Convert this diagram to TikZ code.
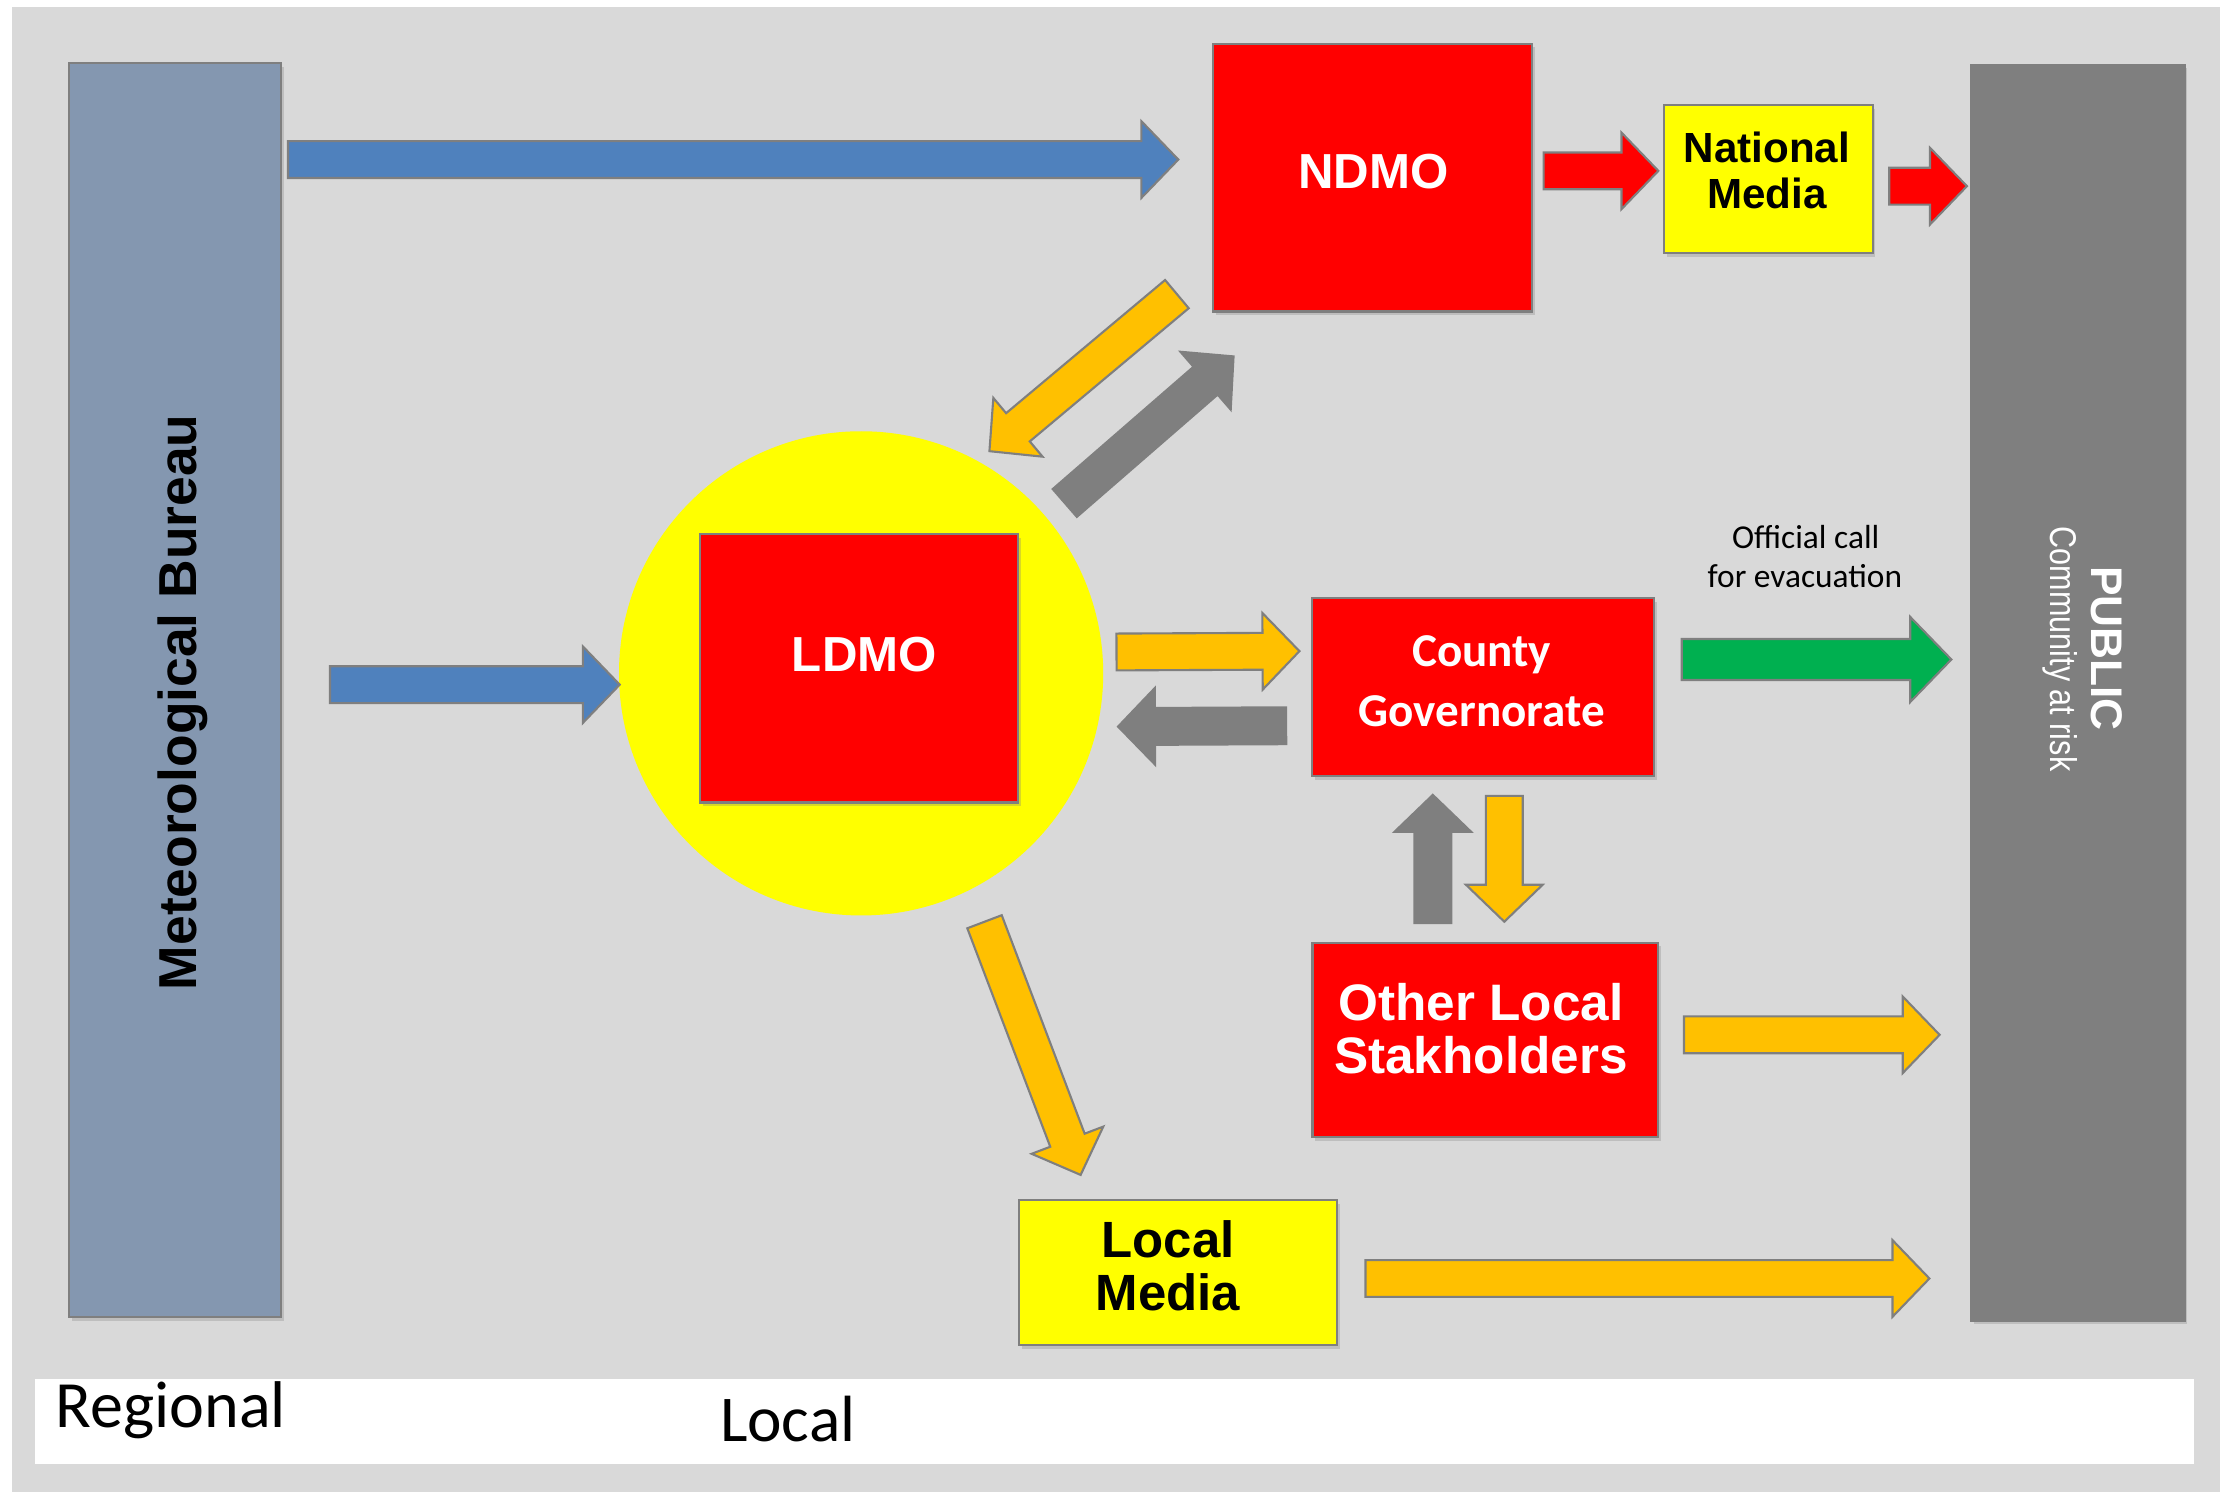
\documentclass[tikz,border=0pt]{standalone}
\usepackage{fontspec}
\setmainfont{Liberation Sans}
\newfontfamily\calfont{Carlito}
\usetikzlibrary{calc,shadows}

\definecolor{bggray}{HTML}{D9D9D9}
\definecolor{metblue}{HTML}{8497B0}
\definecolor{pubgray}{HTML}{7F7F7F}
\definecolor{edgegray}{HTML}{7F7F7F}
\definecolor{boxred}{HTML}{FF0000}
\definecolor{boxyellow}{HTML}{FFFF00}
\definecolor{flowblue}{HTML}{4F81BD}
\definecolor{floworange}{HTML}{FFC000}
\definecolor{flowgreen}{HTML}{00B050}
\definecolor{flowgray}{HTML}{7F7F7F}

\newcommand\pu{0.014158cm}
\newcommand\bw{5.24pt}
\newcommand\bh{10.9pt}
\newcommand\bl{10.5pt}

\begin{document}
\begin{tikzpicture}[
  x=\pu, y=-\pu,
  box/.style={
    rectangle, draw=edgegray, line width=0.6pt, inner sep=0pt,
    drop shadow={shadow xshift=0.8pt, shadow yshift=-1pt, opacity=0.3}
  },
  heavy/.style 2 args={font=\fontsize{#1}{#2}\selectfont\bfseries, inner sep=0pt},
  calibri/.style 2 args={font=\calfont\fontsize{#1}{#2}\selectfont, inner sep=0pt},
  barrow/.style={
    draw=edgegray, line width=0.6pt, fill=#1,
    to path={
      let \p1=(\tikztostart), \p2=(\tikztotarget),
          \n1={atan2(\y2-\y1,\x2-\x1)}, \n2={veclen(\x2-\x1,\y2-\y1)} in
      ($(\p1)+(\n1+90:\bw)$) -- ($(\p1)+(\n1:\n2-\bl)+(\n1+90:\bw)$)
      -- ($(\p1)+(\n1:\n2-\bl)+(\n1+90:\bh)$) -- (\p2)
      -- ($(\p1)+(\n1:\n2-\bl)+(\n1-90:\bh)$)
      -- ($(\p1)+(\n1:\n2-\bl)+(\n1-90:\bw)$)
      -- ($(\p1)+(\n1-90:\bw)$) -- cycle
    }
  },
  wide/.code={\def\bw{5.84pt}\def\bh{12.1pt}\def\bl{11.7pt}}
]
  \fill[bggray] (8.5,5) rectangle (1568,1054);
  \fill[white] (24.7,974) rectangle (1549.6,1034);
  \useasboundingbox (0,0) rectangle (1568,1054);

  \node[box, fill=metblue, minimum width=149.7*\pu, minimum height=885.9*\pu] (met) at (123.5,487.5) {};
  \node[box, fill=pubgray, minimum width=151*\pu, minimum height=887*\pu] (pub) at (1467.5,489.3) {};
  \node[heavy={15.2}{18}, rotate=90, anchor=base] (metname) at (138.5,496) {Meteorological Bureau};
  \node[heavy={12.6}{14}, text=white, rotate=-90, anchor=base] (pubname) at (1477.4,458) {PUBLIC};
  \node[font=\fontsize{10.6}{12}\selectfont, inner sep=0pt, text=white, rotate=-90, anchor=base]
    (pubsub) at (1448,458.5) {\scalebox{0.82}[1]{Community at risk}};

  \node[box, fill=boxred, minimum width=225*\pu, minimum height=189*\pu] (ndmo) at (969.5,125.5) {};
  \node[box, fill=boxyellow, minimum width=147.3*\pu, minimum height=104.6*\pu] (natmedia) at (1249,126.5) {};
  \node[circle, fill=boxyellow, minimum size=342*\pu, inner sep=0pt] (ldmoc) at (608.2,475.6) {};
  \node[box, fill=boxred, minimum width=224.3*\pu, minimum height=189.4*\pu] (ldmo) at (606.8,472.1) {};
  \node[box, fill=boxred, minimum width=241.5*\pu, minimum height=126*\pu] (cg) at (1047.6,485.4) {};
  \node[box, fill=boxred, minimum width=244*\pu, minimum height=137.5*\pu] (ols) at (1049,734.5) {};
  \node[box, fill=boxyellow, minimum width=224.4*\pu, minimum height=102.4*\pu] (locmedia) at (832.2,898.8) {};

  \node[heavy={14}{16}, text=white] (ndmotext) at (970,121.3) {NDMO};
  \node[heavy={12}{13.1}, align=center] (natmediatext) at (1248,120.2) {National\\Media};
  \node[heavy={14}{16}, text=white] (ldmotext) at (610.5,462.4) {LDMO};
  \node[font=\calfont\bfseries\fontsize{13.4}{17.2}\selectfont, inner sep=0pt, text=white, align=center]
    (cgtext) at (1046.5,481.1) {County\\Governorate};
  \node[heavy={14.6}{15.1}, text=white, align=center] (olstext) at (1046,726.3) {Other Local\\Stakholders};
  \node[heavy={14.5}{15.1}, align=center] (locmediatext) at (825,894.3) {Local\\Media};
  \node[calibri={9.5}{11.2}, anchor=base] (calltext) at (1275.4,387.4) {Official call};
  \node[calibri={9.5}{11.2}, anchor=base] (calltextb) at (1274.8,415.2) {for evacuation};
  \node[calibri={18.8}{22}, anchor=base west] (regional) at (38.8,1008) {Regional};
  \node[calibri={18.6}{22}, anchor=base west] (local) at (508.1,1018.1) {Local};

  \draw[barrow=flowblue] ($(met.east |- ndmo.west)+(4.3,-12.8)$) to ($(ndmo.west)+(-24,-12.8)$);
  \draw[barrow=flowblue] ($(met.east |- ldmoc.west)+(34,8)$) to ($(ldmoc.west)+(1,8)$);
  \draw[barrow=boxred] ($(ndmo.east)+(7.5,-4.8)$) to ($(natmedia.west)+(-3.3,-5.8)$);
  \draw[barrow=boxred] ($(natmedia.east)+(11,5)$) to ($(pub.west |- natmedia.east)+(-2,5)$);
  \draw[barrow=floworange] ($(ndmo.south west)+(-25,-13)$) to ($(ldmoc.60)+(4.9,-8.4)$);
  \draw[barrow=flowgray] ($(ldmoc.40)+(12.5,-10.1)$) to ($(ndmo.south west)+(15,31)$);
  \draw[barrow=floworange] ($(ldmoc.east)+(8.9,-15.1)$) to ($(cg.west)+(-8.3,-25.5)$);
  \draw[barrow=flowgray] ($(cg.west)+(-17.7,27.2)$) to ($(ldmoc.east)+(10,37.6)$);
  \draw[barrow=flowgreen, wide] ($(cg.east)+(18.7,-19.6)$) to ($(pub.west |- cg.east)+(-13,-19.6)$);
  \draw[barrow=flowgray] ($(ols.north)+(-37,-13)$) to ($(cg.south)+(-35.6,12.3)$);
  \draw[barrow=floworange] ($(cg.south)+(14.9,13)$) to ($(ols.north)+(13.5,-14)$);
  \draw[barrow=floworange] ($(ols.east)+(17.7,-3.6)$) to ($(pub.west |- ols.east)+(-21.3,-3.6)$);
  \draw[barrow=floworange] ($(ldmoc.-64)+(12,21.3)$) to ($(locmedia.north west)+(44,-17)$);
  \draw[barrow=floworange] ($(locmedia.east)+(19.3,4.2)$) to ($(pub.west |- locmedia.east)+(-28.5,4.2)$);
\end{tikzpicture}
\end{document}
